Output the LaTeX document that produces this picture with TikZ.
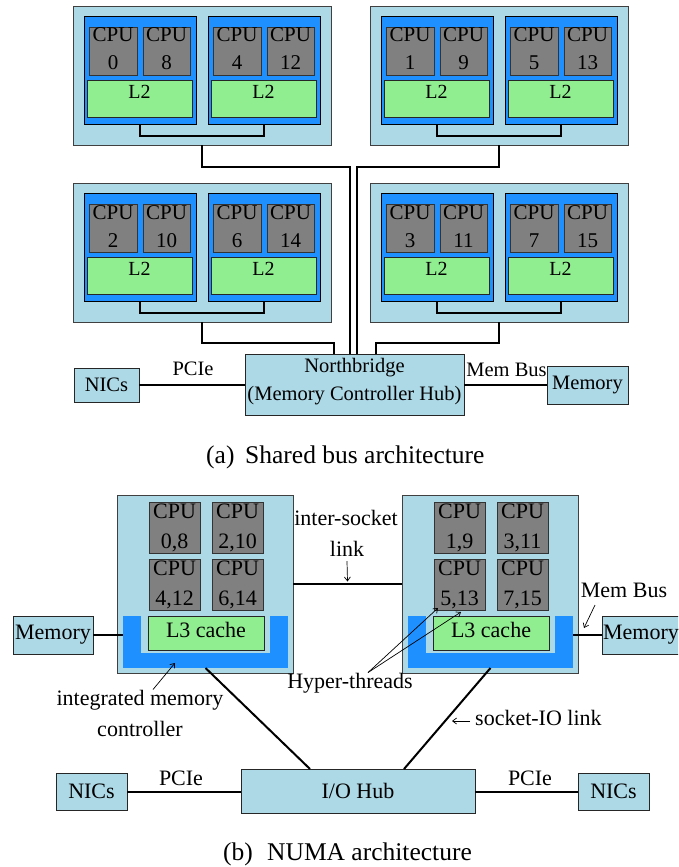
\documentclass[tikz,border=0pt]{standalone}
\usepackage{fontspec}
\setmainfont{Liberation Serif}
\usetikzlibrary{calc,arrows.meta}

\definecolor{sockfill}{HTML}{ADD8E6}
\definecolor{diefill}{HTML}{1E90FF}
\definecolor{corefill}{HTML}{808080}
\definecolor{cachefill}{HTML}{90EE90}

\newcommand\sizeTop{\fontsize{20.5}{24}\selectfont}
\newcommand\sizeCore{\fontsize{21}{24}\selectfont}
\newcommand\sizeLtwo{\fontsize{20}{24}\selectfont}
\newcommand\sizeNuma{\fontsize{22}{26}\selectfont}
\newcommand\sizeCap{\fontsize{25.5}{30}\selectfont}

% rectangle node given by its corners: name, style, x1, y1, x2, y2, text
\newcommand\rbox[7]{%
  \node[#2, anchor=north west, minimum width={(#5)-(#3)},
        minimum height={(#6)-(#4)}] (#1) at (#3,#4) {#7};}

% one dual-core die with shared L2: name, x, socket top, core numbers
\newcommand\busdie[5]{%
  \rbox{#1}{die}{#2}{#3+10}{#2+112}{#3+118}{}
  \rbox{#1p}{core}{#2+5}{#3+21}{#2+53}{#3+69}{}
  \rbox{#1q}{core}{#2+59}{#3+21}{#2+106}{#3+69}{}
  \rbox{#1c}{cache}{#2+3}{#3+74}{#2+108}{#3+111}{}
  \node[coretxt] (#1pa) at ($(#1p.north)+(0,15)$) {CPU};
  \node[coretxt] (#1pb) at ($(#1p.north)+(0,43)$) {#4};
  \node[coretxt] (#1qa) at ($(#1q.north)+(0,15)$) {CPU};
  \node[coretxt] (#1qb) at ($(#1q.north)+(0,43)$) {#5};
  \node[ltwotxt] (#1ca) at ($(#1c.north)+(0,18)$) {L2};
}

% package with two dies joined by a bus: name, x, y, four core numbers
\newcommand\bussock[7]{%
  \rbox{#1}{sock}{#2}{#3}{#2+258}{#3+139}{}
  \busdie{#1a}{#2+11}{#3}{#4}{#5}
  \busdie{#1b}{#2+135}{#3}{#6}{#7}
  \draw[wire] (#1a.south) -- ++(0,12) -| (#1b.south);
}

% one core of a NUMA socket: name, x, y, thread numbers
\newcommand\numacore[4]{%
  \rbox{#1}{core}{#2}{#3}{#2+51}{#3+51}{}
  \node[numatxt] (#1a) at ($(#1.north)+(0,16)$) {CPU};
  \node[numatxt] (#1b) at ($(#1.north)+(0,46)$) {#4};
}

% NUMA socket with L3 and memory controller: name, x, four labels
\newcommand\numasock[6]{%
  \rbox{#1}{sock}{#2}{495}{#2+176}{673}{}
  \rbox{#1u}{imc}{#2+6}{616}{#2+171}{668}{}
  \rbox{#1k}{hollow}{#2+24}{616}{#2+153}{653}{}
  \rbox{#1c}{cache}{#2+31}{616}{#2+147}{650}{}
  \node[numatxt] (#1ct) at ($(#1c.north)+(0,21)$) {L3 cache};
  \numacore{#1p}{#2+32}{502}{#3}
  \numacore{#1q}{#2+95}{502}{#4}
  \numacore{#1r}{#2+32}{559}{#5}
  \numacore{#1s}{#2+95}{559}{#6}
}

\begin{document}
\begin{tikzpicture}[x=1pt,y=-1pt,
  sock/.style={draw=black!75, fill=sockfill, line width=0.8pt, inner sep=0pt, outer sep=0pt},
  die/.style={draw=black, fill=diefill, line width=0.9pt, inner sep=0pt, outer sep=0pt},
  core/.style={draw=black!80, fill=corefill, line width=0.9pt, inner sep=0pt, outer sep=0pt},
  cache/.style={draw=black!85, fill=cachefill, line width=0.9pt, inner sep=0pt, outer sep=0pt},
  imc/.style={fill=diefill, inner sep=0pt, outer sep=0pt},
  hollow/.style={fill=sockfill, inner sep=0pt, outer sep=0pt},
  hubbox/.style={draw=black!85, fill=sockfill, line width=0.9pt, inner sep=0pt, outer sep=0pt},
  coretxt/.style={anchor=base, inner sep=0pt, font=\sizeCore},
  ltwotxt/.style={anchor=base, inner sep=0pt, font=\sizeLtwo},
  toptxt/.style={anchor=base, inner sep=0pt, font=\sizeTop},
  numatxt/.style={anchor=base, inner sep=0pt, font=\sizeNuma},
  captxt/.style={anchor=base, inner sep=0pt, font=\sizeCap},
  wire/.style={line width=2pt},
  pointer/.style={line width=0.7pt, -{Straight Barb[length=4pt,width=6pt]}}]
\useasboundingbox (0,0) rectangle (678,867);
\clip (0,0) rectangle (678,867);

% ---------- shared bus machine ----------
\bussock{sa}{73}{6}{0}{8}{4}{12}
\bussock{sb}{370}{6}{1}{9}{5}{13}
\bussock{sc}{73}{183}{2}{10}{6}{14}
\bussock{sd}{370}{183}{3}{11}{7}{15}

\rbox{nb}{hubbox}{245}{354}{464}{415}{}
\node[toptxt] (nbta) at (354.5,372) {Northbridge};
\node[toptxt] (nbtb) at (354.5,400) {(Memory Controller Hub)};

\draw[wire] (sa.south) -- ++(0,22) -| ([xshift=105pt]nb.north west);
\draw[wire] (sb.south) -- ++(0,22) -| ([xshift=112pt]nb.north west);
\draw[wire] (sc.south) -- ++(0,21) -| ([xshift=89pt]nb.north west);
\draw[wire] (sd.south) -- ++(0,21) -| ([xshift=131pt]nb.north west);

\rbox{nicsa}{hubbox,font=\sizeTop}{74}{368}{139}{402}{NICs}
\rbox{mema}{hubbox,font=\sizeTop}{547}{366}{628}{404}{Memory}
\draw[wire] (nicsa.east) -- (nicsa.east -| nb.west);
\draw[wire] (nb.east |- mema.west) -- (mema.west);
\node[toptxt] (pciea) at (193,375) {PCIe};
\node[toptxt] (membusa) at (506.5,376) {Mem Bus};

\node[captxt, anchor=base west] (capa) at (206,463) {(a)};
\node[captxt, anchor=base west] (capat) at (245,463) {Shared bus architecture};

% ---------- NUMA machine ----------
\numasock{ska}{117}{0,8}{2,10}{4,12}{6,14}
\numasock{skb}{402}{1,9}{3,11}{5,13}{7,15}

\coordinate (islk) at ($([yshift=-89pt]ska.north east)!0.5!([yshift=-89pt]skb.north west)$);
\draw[wire] ([yshift=-89pt]ska.north east) -- ([yshift=-89pt]skb.north west);
\node[numatxt] (isla) at (346,525) {inter-socket};
\node[numatxt] (islb) at (347,556) {link};
\draw[pointer] ([yshift=-5pt]islb.south) -- ([yshift=2.5pt]islk);

\rbox{memb}{hubbox,font=\sizeNuma}{13}{616}{93}{654}{Memory}
\rbox{memc}{hubbox,font=\sizeNuma}{602}{616}{680}{654}{Memory}
\draw[wire] (memb.east) -- (memb.east -| skau.west);
\draw[wire] (skbu.east |- memc.west) -- (memc.west);
\node[numatxt] (membusb) at (624,597) {Mem Bus};
\coordinate (mbtip) at (584,628);
\draw[pointer] ([shift={(-29,8)}]membusb.base) -- (mbtip);

\node[numatxt] (ht) at (350,688) {Hyper-threads};
\draw[pointer] ([xshift=18pt]ht.north) -- ($(skbr.south west)+(4,-2)$);
\draw[pointer] ([xshift=18pt]ht.north) -- ($(skbr.south west)+(27,2)$);

\node[numatxt] (imca) at (140,705) {integrated memory};
\node[numatxt] (imcb) at (140,736) {controller};
\draw[pointer] ([xshift=13pt]imca.north) -- ($(skau.south west)+(52,-5)$);

\rbox{ioh}{hubbox,font=\sizeNuma}{241}{769}{475}{813}{I/O Hub}
\draw[wire] (skau.south) -- ([xshift=69pt]ioh.north west);
\draw[wire] (skbu.south) -- ([xshift=163pt]ioh.north west);

\node[numatxt, anchor=base west] (sio) at (475,725) {socket-IO link};
\coordinate (siotip) at (452,721);
\draw[pointer] ([shift={(-5,-4)}]sio.base west) -- (siotip);

\rbox{nicsb}{hubbox,font=\sizeNuma}{56}{773}{127}{810}{NICs}
\rbox{nicsc}{hubbox,font=\sizeNuma}{578}{773}{649}{810}{NICs}
\draw[wire] (nicsb.east) -- (nicsb.east -| ioh.west);
\draw[wire] (ioh.east |- nicsc.west) -- (nicsc.west);
\node[numatxt] (pcieb) at (181,785) {PCIe};
\node[numatxt] (pciec) at (530,785) {PCIe};

\node[captxt, anchor=base east] (capb) at (253,860) {(b)};
\node[captxt, anchor=base west] (capbt) at (267,860) {NUMA architecture};
\end{tikzpicture}
\end{document}
